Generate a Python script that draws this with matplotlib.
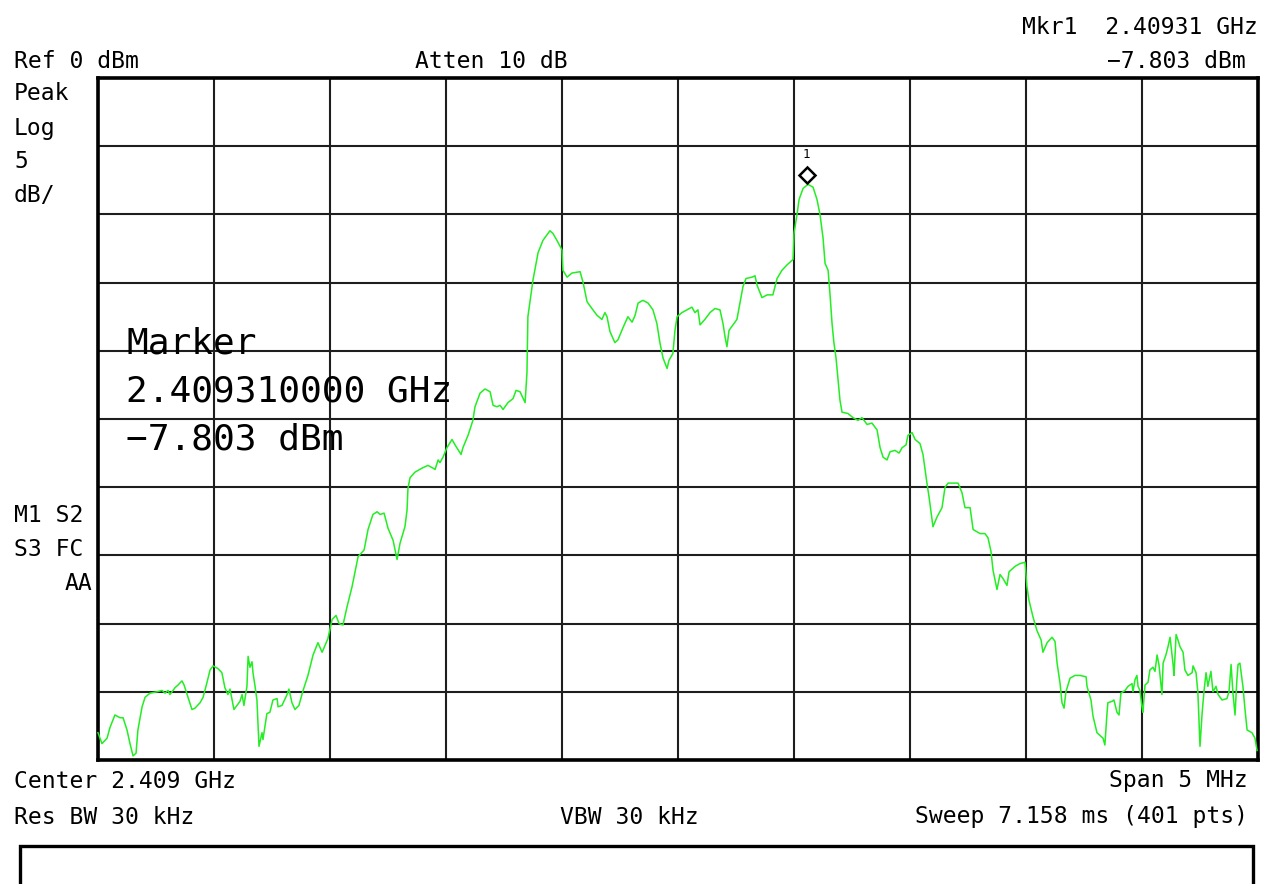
import matplotlib
matplotlib.use("Agg")
import matplotlib.pyplot as plt
import numpy as np
from matplotlib.transforms import ScaledTranslation
from matplotlib.patches import Rectangle

# ---- instrument settings / labels ----
center_ghz = 2.409
span_mhz = 5.0
ref_dbm = 0.0
db_per_div = 5.0
n_div = 10

header_left = "Ref 0 dBm"
header_mid = "Atten 10 dB"
marker_freq_label = "Mkr1  2.40931 GHz"
marker_level_label = "\u22127.803 dBm"
left_labels_top = ["Peak", "Log", "5", "dB/"]
left_labels_bottom = ["M1 S2", "S3 FC", "AA"]
footer_row1 = ["Center 2.409 GHz", "Span 5 MHz"]
footer_row2 = ["Res BW 30 kHz", "VBW 30 kHz", "Sweep 7.158 ms (401 pts)"]
marker_box_lines = ["Marker", "2.409310000 GHz", "\u22127.803 dBm"]

# ---- trace: offset from center (MHz) and level (dBm) ----
freq_offset_mhz = [
    -2.500, -2.483, -2.461, -2.448, -2.427, -2.405, -2.392, -2.375, -2.362, -2.349,
    -2.336, -2.328, -2.310, -2.297, -2.276, -2.246, -2.224, -2.211, -2.198, -2.190,
    -2.168, -2.155, -2.138, -2.129, -2.112, -2.095, -2.082, -2.060, -2.047, -2.030,
    -2.017, -2.004, -1.983, -1.966, -1.953, -1.940, -1.931, -1.922, -1.914, -1.901,
    -1.888, -1.879, -1.871, -1.858, -1.853, -1.845, -1.836, -1.832, -1.823, -1.815,
    -1.806, -1.793, -1.789, -1.772, -1.759, -1.746, -1.728, -1.724, -1.707, -1.685,
    -1.677, -1.664, -1.651, -1.634, -1.616, -1.595, -1.573, -1.552, -1.534, -1.509,
    -1.491, -1.474, -1.461, -1.444, -1.427, -1.405, -1.379, -1.353, -1.336, -1.315,
    -1.297, -1.284, -1.267, -1.250, -1.228, -1.211, -1.198, -1.177, -1.168, -1.164,
    -1.155, -1.134, -1.103, -1.078, -1.056, -1.047, -1.034, -1.026, -1.013, -0.996,
    -0.974, -0.961, -0.935, -0.927, -0.905, -0.884, -0.875, -0.853, -0.832, -0.810,
    -0.797, -0.780, -0.767, -0.754, -0.733, -0.711, -0.698, -0.681, -0.659, -0.651,
    -0.647, -0.625, -0.603, -0.582, -0.552, -0.539, -0.522, -0.500, -0.496, -0.478,
    -0.457, -0.422, -0.409, -0.392, -0.371, -0.349, -0.328, -0.315, -0.306, -0.293,
    -0.272, -0.259, -0.237, -0.216, -0.198, -0.185, -0.172, -0.151, -0.129, -0.108,
    -0.091, -0.078, -0.065, -0.047, -0.039, -0.022, -0.013, -0.004, 0.017, 0.039,
    0.060, 0.073, 0.086, 0.095, 0.116, 0.138, 0.159, 0.181, 0.194, 0.203,
    0.211, 0.220, 0.237, 0.254, 0.267, 0.280, 0.293, 0.319, 0.332, 0.341,
    0.362, 0.384, 0.409, 0.427, 0.448, 0.470, 0.496, 0.500, 0.513, 0.522,
    0.539, 0.560, 0.582, 0.599, 0.612, 0.625, 0.634, 0.647, 0.655, 0.664,
    0.672, 0.681, 0.690, 0.698, 0.707, 0.733, 0.754, 0.776, 0.793, 0.815,
    0.836, 0.858, 0.871, 0.884, 0.901, 0.914, 0.935, 0.953, 0.966, 0.983,
    0.991, 1.009, 1.022, 1.043, 1.056, 1.073, 1.082, 1.099, 1.116, 1.138,
    1.151, 1.164, 1.207, 1.224, 1.237, 1.259, 1.272, 1.302, 1.323, 1.336,
    1.349, 1.358, 1.375, 1.388, 1.401, 1.418, 1.427, 1.453, 1.474, 1.496,
    1.504, 1.513, 1.530, 1.547, 1.565, 1.573, 1.591, 1.612, 1.625, 1.634,
    1.647, 1.655, 1.664, 1.672, 1.690, 1.711, 1.733, 1.759, 1.763, 1.780,
    1.789, 1.806, 1.819, 1.832, 1.840, 1.849, 1.853, 1.871, 1.879, 1.892,
    1.901, 1.909, 1.927, 1.940, 1.957, 1.961, 1.970, 1.978, 1.983, 1.991,
    2.000, 2.004, 2.013, 2.026, 2.034, 2.047, 2.056, 2.065, 2.073, 2.086,
    2.091, 2.103, 2.112, 2.121, 2.129, 2.134, 2.138, 2.147, 2.155, 2.164,
    2.177, 2.185, 2.198, 2.216, 2.220, 2.233, 2.241, 2.250, 2.259, 2.267,
    2.276, 2.284, 2.297, 2.306, 2.319, 2.328, 2.345, 2.366, 2.375, 2.384,
    2.392, 2.401, 2.409, 2.414, 2.422, 2.435, 2.444, 2.453, 2.474, 2.487,
    2.496,
]
level_dbm = [
    -48.0, -48.8, -48.4, -47.6, -46.7, -46.9, -46.9, -47.8, -48.8, -49.7,
    -49.5, -47.8, -46.1, -45.4, -45.1, -45.0, -44.9, -45.1, -44.9, -45.2,
    -44.7, -44.5, -44.2, -44.5, -45.4, -46.3, -46.2, -45.8, -45.4, -44.3,
    -43.4, -43.1, -43.3, -43.6, -44.7, -45.2, -44.8, -45.6, -46.3, -46.0,
    -45.7, -45.2, -46.0, -44.6, -42.4, -43.2, -42.8, -43.6, -44.6, -45.6,
    -49.0, -48.0, -48.5, -46.6, -46.5, -45.6, -45.5, -46.1, -46.0, -45.2,
    -44.8, -45.8, -46.3, -46.0, -44.9, -43.8, -42.3, -41.4, -42.1, -41.1,
    -39.7, -39.4, -40.0, -40.1, -38.8, -37.3, -35.1, -34.6, -33.1, -32.0,
    -31.8, -32.0, -31.9, -33.0, -33.9, -35.3, -34.1, -32.9, -31.7, -30.1,
    -29.3, -28.9, -28.6, -28.4, -28.6, -28.7, -28.0, -28.2, -27.8, -27.1,
    -26.5, -26.9, -27.6, -27.1, -26.2, -25.1, -24.1, -23.1, -22.8, -23.0,
    -24.0, -24.1, -24.0, -24.3, -23.8, -23.5, -22.9, -23.0, -23.8, -21.6,
    -17.5, -14.8, -12.8, -11.9, -11.2, -11.4, -11.9, -12.6, -14.1, -14.6,
    -14.3, -14.2, -15.0, -16.4, -16.9, -17.4, -17.7, -17.2, -17.5, -18.6,
    -19.4, -19.2, -18.3, -17.5, -17.9, -17.4, -16.5, -16.3, -16.5, -17.0,
    -18.0, -19.4, -20.5, -21.3, -20.7, -20.2, -18.5, -17.5, -17.2, -17.0,
    -16.8, -17.2, -17.0, -18.1, -17.7, -17.2, -16.9, -17.0, -18.0, -19.0,
    -19.7, -18.5, -18.1, -17.7, -16.5, -15.3, -14.7, -14.6, -14.5, -15.2,
    -16.1, -15.9, -15.9, -14.7, -14.1, -13.7, -13.3, -11.4, -10.0, -8.9,
    -8.1, -7.8, -8.0, -8.9, -10.0, -11.7, -13.6, -14.1, -15.8, -18.0,
    -19.4, -20.5, -22.1, -23.6, -24.5, -24.6, -24.9, -25.1, -24.9, -25.4,
    -25.3, -25.8, -27.1, -27.8, -28.0, -27.4, -27.3, -27.5, -27.1, -26.9,
    -26.2, -26.0, -26.5, -26.8, -27.6, -29.7, -30.7, -32.9, -32.2, -31.5,
    -30.0, -29.7, -29.7, -30.4, -31.5, -31.5, -33.1, -33.4, -33.4, -33.7,
    -34.7, -36.1, -37.5, -36.4, -36.7, -37.2, -36.2, -35.8, -35.6, -35.5,
    -37.3, -38.3, -39.5, -40.5, -41.2, -42.1, -41.4, -41.0, -41.3, -42.9,
    -44.4, -45.8, -46.2, -45.0, -44.0, -43.8, -43.8, -43.9, -44.6, -45.6,
    -46.8, -48.0, -48.2, -48.4, -48.9, -46.6, -45.8, -45.7, -45.6, -46.5,
    -46.7, -45.1, -44.9, -44.6, -44.4, -45.0, -44.1, -43.8, -44.6, -44.9,
    -46.1, -46.5, -44.5, -44.3, -43.4, -43.2, -43.5, -42.3, -43.0, -45.2,
    -42.9, -42.3, -41.7, -41.0, -42.2, -43.0, -43.8, -40.8, -41.2, -41.7,
    -42.1, -43.4, -43.8, -43.6, -43.1, -43.6, -45.1, -49.0, -46.6, -45.0,
    -43.6, -44.6, -43.5, -45.0, -44.6, -45.2, -45.6, -45.5, -45.0, -43.0,
    -45.1, -46.7, -44.1, -43.0, -42.9, -44.6, -46.3, -47.8, -48.0, -48.4,
    -49.3,
]

# ---- figure ----
W, H = 1270, 884
fig = plt.figure(figsize=(W / 100, H / 100), dpi=100)
fig.patch.set_facecolor("white")

def fx(px):
    return px / W

def fy(py):
    return 1 - py / H

ax = fig.add_axes([fx(98), fy(760), fx(1258) - fx(98), fy(78) - fy(760)])
ax.set_xlim(-span_mhz / 2, span_mhz / 2)
ax.set_ylim(ref_dbm - n_div * db_per_div, ref_dbm)
ax.set_xticks(np.linspace(-span_mhz / 2, span_mhz / 2, n_div + 1))
ax.set_yticks(np.linspace(ref_dbm - n_div * db_per_div, ref_dbm, n_div + 1))
ax.tick_params(length=0, labelbottom=False, labelleft=False)
ax.grid(True, color="#1e1e1e", linewidth=1.5)
ax.set_axisbelow(True)
for s in ax.spines.values():
    s.set_linewidth(2.6)
    s.set_color("black")

ax.plot(freq_offset_mhz, level_dbm, color="#22ee22", linewidth=1.1, zorder=3,
        clip_on=False)

# marker at the peak
i_pk = int(np.argmax(level_dbm))
pk_x, pk_y = freq_offset_mhz[i_pk], level_dbm[i_pk]
off = ax.transData + ScaledTranslation(-0.01, 0.095, fig.dpi_scale_trans)
ax.plot([pk_x], [pk_y], marker="D", markersize=8.5, markerfacecolor="white",
        markeredgecolor="black", markeredgewidth=1.8, transform=off, zorder=5,
        clip_on=False)
off2 = ax.transData + ScaledTranslation(-0.02, 0.30, fig.dpi_scale_trans)
ax.text(pk_x, pk_y, "1", transform=off2, fontsize=9, ha="center", va="center",
        family="DejaVu Sans Mono", zorder=5)

mono = "DejaVu Sans Mono"
fs = 16.6
kw = dict(family=mono, fontsize=fs, color="black")

fig.text(fx(14), fy(61), header_left, ha="left", va="center", **kw)
fig.text(fx(415), fy(61), header_mid, ha="left", va="center", **kw)
fig.text(fx(1258), fy(27), marker_freq_label, ha="right", va="center", **kw)
fig.text(fx(1246), fy(61), marker_level_label, ha="right", va="center", **kw)

for lab, py in zip(left_labels_top, [94, 128, 161, 195]):
    fig.text(fx(14), fy(py), lab, ha="left", va="center", **kw)
fig.text(fx(14), fy(515), left_labels_bottom[0], ha="left", va="center", **kw)
fig.text(fx(14), fy(549), left_labels_bottom[1], ha="left", va="center", **kw)
fig.text(fx(92), fy(583), left_labels_bottom[2], ha="right", va="center", **kw)

fig.text(fx(14), fy(781), footer_row1[0], ha="left", va="center", **kw)
fig.text(fx(1248), fy(781), footer_row1[1], ha="right", va="center", **kw)
fig.text(fx(14), fy(817), footer_row2[0], ha="left", va="center", **kw)
fig.text(fx(560), fy(817), footer_row2[1], ha="left", va="center", **kw)
fig.text(fx(1248), fy(817), footer_row2[2], ha="right", va="center", **kw)

bkw = dict(family=mono, fontsize=26, color="black")
for lab, py in zip(marker_box_lines, [344, 391, 439]):
    fig.text(fx(126), fy(py), lab, ha="left", va="center", zorder=10, **bkw)

fig.patches.append(Rectangle((fx(20), fy(900)), fx(1253) - fx(20), fy(846) - fy(900),
                             transform=fig.transFigure, fill=False,
                             edgecolor="black", linewidth=2.4))

fig.savefig("out.png", dpi=100, facecolor="white")
